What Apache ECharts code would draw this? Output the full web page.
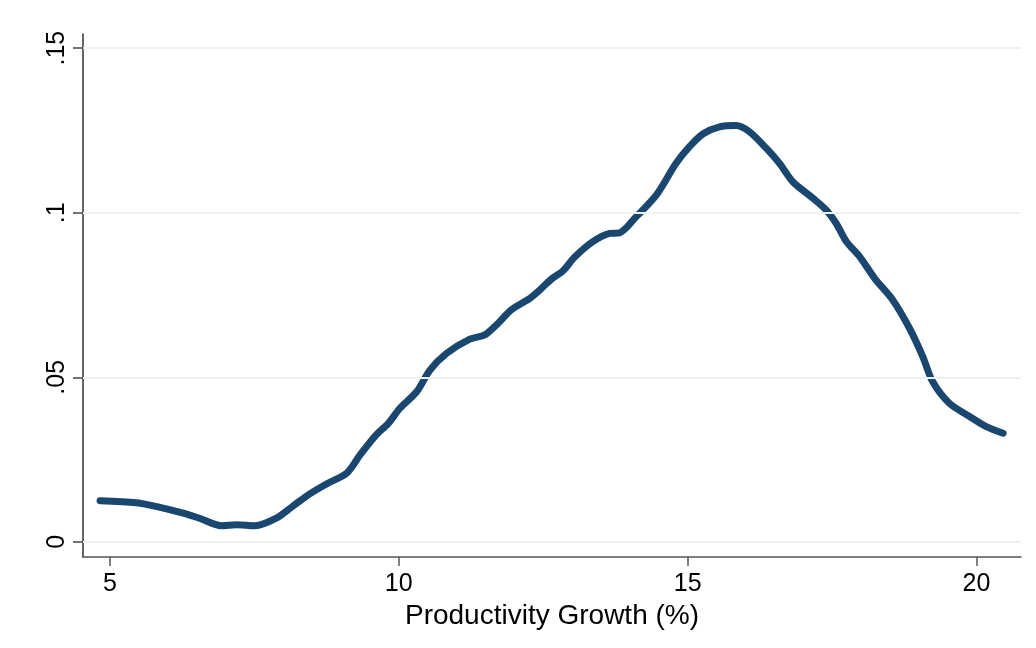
<!DOCTYPE html>
<html>
<head>
<meta charset="utf-8">
<script src="https://cdn.jsdelivr.net/npm/echarts@6/dist/echarts.min.js"></script>
<style>
  html, body { margin: 0; padding: 0; background: #fff; }
  #chart { width: 1036px; height: 648px; }
</style>
</head>
<body>
<div id="chart"></div>
<script>
// kernel density
const growth = [
  4.83, 5.46, 5.87, 6.27, 6.56, 6.93, 7.19, 7.51, 7.88, 8.17, 8.46, 8.75, 9.10,
  9.33, 9.61, 9.82, 10.02, 10.31, 10.54, 10.83, 11.23, 11.49, 11.69, 11.95, 12.27,
  12.41, 12.64, 12.84, 13.05, 13.36, 13.65, 13.82, 14.11, 14.46, 14.80, 15.04,
  15.27, 15.55, 15.84, 16.07, 16.36, 16.59, 16.82, 17.17, 17.40, 17.57, 17.75,
  17.98, 18.24, 18.55, 18.84, 19.07, 19.24, 19.53, 19.88, 20.17, 20.46
];
const density = [
  0.0125, 0.0119, 0.0105, 0.0087, 0.0071, 0.0049, 0.0052, 0.0049, 0.0072, 0.0109,
  0.0146, 0.0176, 0.0209, 0.0264, 0.0325, 0.0360, 0.0406, 0.0456, 0.0522, 0.0573,
  0.0616, 0.0629, 0.0659, 0.0705, 0.0740, 0.0760, 0.0798, 0.0823, 0.0866, 0.0912,
  0.0937, 0.0939, 0.0988, 0.1054, 0.1150, 0.1202, 0.1240, 0.1261, 0.1265, 0.1246,
  0.1196, 0.1150, 0.1094, 0.1044, 0.1008, 0.0968, 0.0912, 0.0866, 0.0800, 0.0735,
  0.0649, 0.0563, 0.0487, 0.0421, 0.0381, 0.0350, 0.0330
];
const xTicks = [5, 10, 15, 20];
const yTicks = [0, 0.05, 0.1, 0.15];
const yTickLabels = ['0', '.05', '.1', '.15'];

const chart = echarts.init(document.getElementById('chart'));
const font = 'Arial, "Liberation Sans", sans-serif';

chart.setOption({
  animation: false,
  grid: { left: 83, right: 15, top: 34, bottom: 91, containLabel: false },
  xAxis: {
    type: 'value',
    min: 4.535,
    max: 20.77,
    name: 'Productivity Growth (%)',
    nameLocation: 'middle',
    nameGap: 42,
    nameTextStyle: { fontSize: 28, color: '#000', fontFamily: font },
    axisLine: { onZero: false, lineStyle: { color: '#555', width: 1.5 } },
    axisTick: { customValues: xTicks, length: 9, lineStyle: { color: '#555', width: 1.5 } },
    axisLabel: { customValues: xTicks, fontSize: 25, color: '#000', fontFamily: font, margin: 15 },
    splitLine: { show: false }
  },
  yAxis: {
    type: 'value',
    min: -0.0046,
    max: 0.1543,
    axisLine: { show: true, onZero: false, lineStyle: { color: '#333', width: 1.5 } },
    axisTick: { show: true, customValues: yTicks, length: 10, lineStyle: { color: '#444', width: 1.5 } },
    axisLabel: {
      customValues: yTicks,
      rotate: 90,
      fontSize: 25,
      color: '#000',
      fontFamily: font,
      margin: 13,
      formatter: (v) => yTickLabels[yTicks.findIndex((t) => Math.abs(t - v) < 1e-6)]
    },
    splitLine: { show: false }
  },
  series: [
    {
      // horizontal grid lines
      type: 'line',
      data: [],
      silent: true,
      z: 1,
      markLine: {
        silent: true,
        symbol: 'none',
        label: { show: false },
        lineStyle: { color: '#eaf2f3', width: 2, type: 'solid' },
        data: yTicks.map((v) => ({ yAxis: v }))
      }
    },
    {
      type: 'line',
      z: 3,
      data: growth.map((g, i) => [g, density[i]]),
      showSymbol: false,
      smooth: 0.3,
      lineStyle: { color: '#1a476f', width: 7, cap: 'round', join: 'round' }
    }
  ]
});
</script>
</body>
</html>
